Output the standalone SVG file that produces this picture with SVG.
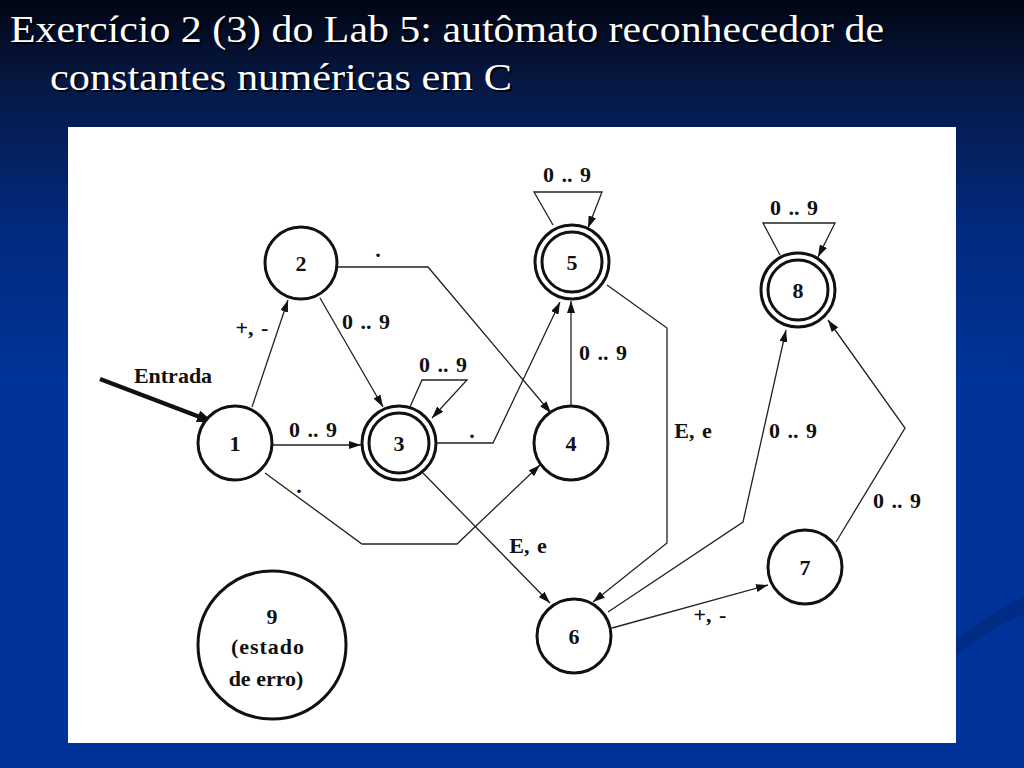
<svg xmlns="http://www.w3.org/2000/svg" width="1024" height="768" viewBox="0 0 1024 768">
<defs>
<linearGradient id="bg" x1="0" y1="0" x2="0" y2="1">
<stop offset="0" stop-color="#010512"/>
<stop offset="0.12" stop-color="#061a48"/>
<stop offset="0.3" stop-color="#022a80"/>
<stop offset="0.5" stop-color="#003399"/>
<stop offset="1" stop-color="#003399"/>
</linearGradient>
<marker id="arr" viewBox="0 0 12 8" refX="12" refY="4" markerWidth="12" markerHeight="8" orient="auto" markerUnits="userSpaceOnUse"><path d="M0,0 L12,4 L0,8 z" fill="#111"/></marker>
<marker id="arrBig" viewBox="0 0 16 12" refX="16" refY="6" markerWidth="16" markerHeight="12" orient="auto" markerUnits="userSpaceOnUse"><path d="M0,0 L16,6 L0,12 z" fill="#111"/></marker>
<style>
.title{font-family:"Liberation Serif","Times New Roman",serif;font-size:38px;fill:#fff}
.shadow{font-family:"Liberation Serif","Times New Roman",serif;font-size:38px;fill:#000}
.node{fill:#fff;stroke:#111;stroke-width:3}
.inner{fill:none;stroke:#111;stroke-width:3}
.nl{font-family:"Liberation Serif","Times New Roman",serif;font-weight:bold;font-size:22px;fill:#111;text-anchor:middle}
.el{font-family:"Liberation Serif","Times New Roman",serif;font-weight:bold;font-size:22px;fill:#111;text-anchor:middle;word-spacing:2px}
.edge{fill:none;stroke:#222;stroke-width:1.3;marker-end:url(#arr)}
</style>
</defs>
<rect x="0" y="0" width="1024" height="768" fill="url(#bg)"/>
<path d="M956,640 Q990,612 1024,596 L1024,614 Q990,628 956,655 Z" fill="#002a80" opacity="0.8"/>
<g id="title">
<text class="shadow" x="12" y="44" textLength="874" lengthAdjust="spacingAndGlyphs">Exercício 2 (3) do Lab 5: autômato reconhecedor de</text>
<text class="title" x="10" y="42" textLength="874" lengthAdjust="spacingAndGlyphs">Exercício 2 (3) do Lab 5: autômato reconhecedor de</text>
<text class="shadow" x="52" y="92" textLength="462" lengthAdjust="spacingAndGlyphs">constantes numéricas em C</text>
<text class="title" x="50" y="90" textLength="462" lengthAdjust="spacingAndGlyphs">constantes numéricas em C</text>
</g>
<rect x="68" y="127" width="888" height="616" fill="#fff"/>
<g id="connectors">
<line x1="100" y1="379" x2="213" y2="422" stroke="#111" stroke-width="4.5" marker-end="url(#arrBig)"/>
<text class="el" x="173" y="383">Entrada</text>
<path class="edge" d="M252,407 L288,300"/>
<text class="el" x="252" y="335">+, -</text>
<path class="edge" d="M272,445 L361,445"/>
<text class="el" x="313" y="437">0 .. 9</text>
<path class="edge" d="M320,298 L383,407"/>
<text class="el" x="366" y="329">0 .. 9</text>
<path class="edge" d="M410,407 L422,380 L467,380 L432,418"/>
<text class="el" x="443" y="372">0 .. 9</text>
<path class="edge" d="M338,267 L428,267 L551,413"/>
<text class="el" x="378" y="257">.</text>
<path class="edge" d="M436,443 L493,443 L560,302"/>
<text class="el" x="472" y="438">.</text>
<path class="edge" d="M571,406 L571,301"/>
<text class="el" x="603" y="360">0 .. 9</text>
<path class="edge" d="M553,225 L534,192 L602,192 L588,228"/>
<text class="el" x="567" y="182">0 .. 9</text>
<path class="edge" d="M780,255 L763,223 L835,223 L818,257"/>
<text class="el" x="794" y="215">0 .. 9</text>
<path class="edge" d="M607,285 L667,328 L667,543 L593,602"/>
<text class="el" x="693" y="438">E, e</text>
<path class="edge" d="M608,612 L743,522 L786,330"/>
<text class="el" x="793" y="438">0 .. 9</text>
<path class="edge" d="M836,542 L905,428 L828,320"/>
<text class="el" x="897" y="508">0 .. 9</text>
<path class="edge" d="M612,628 L768,585"/>
<text class="el" x="710" y="622">+, -</text>
<path class="edge" d="M423,473 L550,603"/>
<text class="el" x="528" y="553">E, e</text>
<path class="edge" d="M265,473 L362,544 L457,544 L540,465"/>
<text class="el" x="299" y="493">.</text>
</g>
<g id="n1"><circle class="node" cx="235" cy="443" r="37"/><text class="nl" x="235" y="451">1</text></g>
<g id="n2"><circle class="node" cx="301" cy="263" r="36"/><text class="nl" x="301" y="271">2</text></g>
<g id="n3"><circle class="node" cx="399" cy="443" r="37"/><circle class="inner" cx="399" cy="443" r="30"/><text class="nl" x="399" y="451">3</text></g>
<g id="n4"><circle class="node" cx="571" cy="443" r="37"/><text class="nl" x="571" y="451">4</text></g>
<g id="n5"><circle class="node" cx="572" cy="262" r="37"/><circle class="inner" cx="572" cy="262" r="30"/><text class="nl" x="572" y="270">5</text></g>
<g id="n8"><circle class="node" cx="798" cy="290" r="37"/><circle class="inner" cx="798" cy="290" r="30"/><text class="nl" x="798" y="298">8</text></g>
<g id="n7"><circle class="node" cx="805" cy="567" r="37"/><text class="nl" x="805" y="575">7</text></g>
<g id="n6"><circle class="node" cx="574" cy="636" r="37"/><text class="nl" x="574" y="644">6</text></g>
<g id="n9"><circle class="node" cx="272" cy="645" r="74"/>
<text class="nl" x="272" y="624">9</text>
<text class="nl" x="268" y="654" letter-spacing="1">(estado</text>
<text class="nl" x="266" y="686">de erro)</text></g>
</svg>
